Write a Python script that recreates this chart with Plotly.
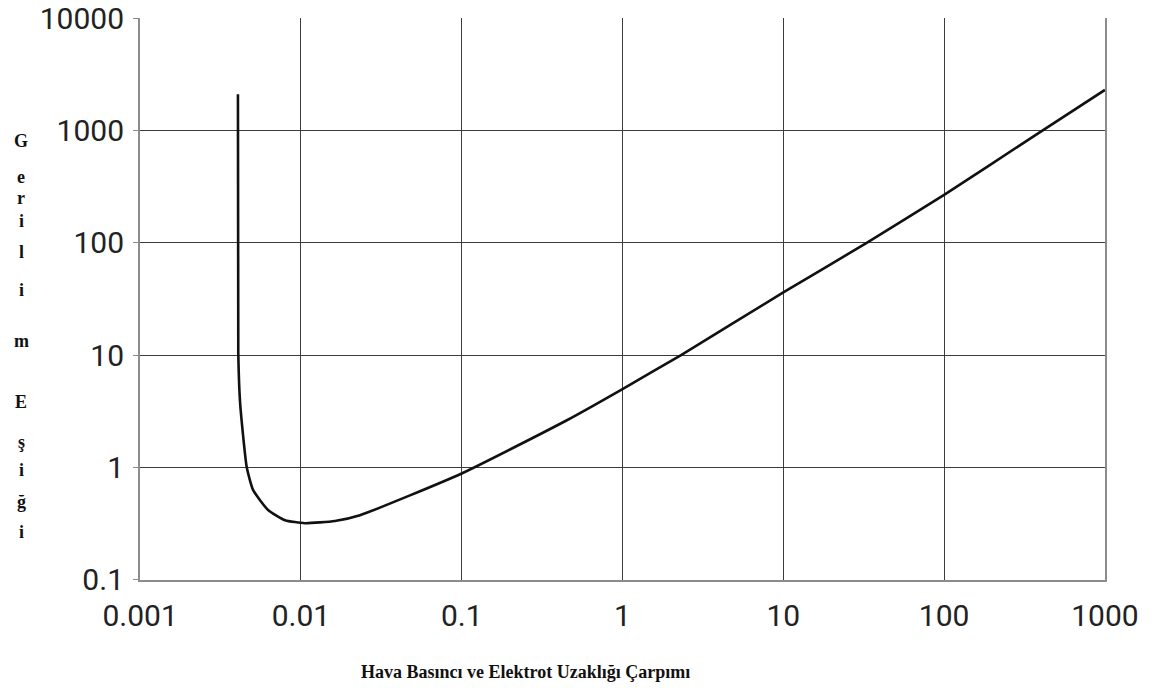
import plotly.graph_objects as go

# Breakdown threshold curve (Paschen-type): product on x, voltage on y
pd_product = [0.00406, 0.00408, 0.00419, 0.00461, 0.00505, 0.00625, 0.00798,
              0.0106, 0.0163, 0.0233, 0.1, 0.451, 1.0, 2.3, 10.0, 33.0,
              100.0, 350.0, 1000.0]
threshold = [2100, 10.4, 3.73, 1.0, 0.63, 0.42, 0.34,
             0.32, 0.335, 0.377, 0.887, 2.64, 5.0, 10.0, 36.3, 100.0,
             268.0, 865.0, 2300.0]

x_ticks = [0.001, 0.01, 0.1, 1, 10, 100, 1000]
x_tick_text = ["0.001", "0.01", "0.1", "1", "10", "100", "1000"]
y_ticks = [0.1, 1, 10, 100, 1000, 10000]
y_tick_text = ["0.1", "1", "10", "100", "1000", "10000"]

x_title = "Hava Basıncı ve Elektrot Uzaklığı Çarpımı"
y_title_letters = ["G", "e", "r", "i", "l", "i", "m", "E", "ş", "i", "ğ", "i"]
y_title_rows = [141, 177, 198, 221, 252, 290, 341, 402, 442, 470, 502, 532]

W, H = 1162, 688
L, R, T, B = 140, 57, 18, 108
plot_h = H - T - B
plot_w = W - L - R

fig = go.Figure()
fig.add_trace(go.Scatter(
    x=pd_product, y=threshold, mode="lines",
    line=dict(color="#111111", width=2.6, shape="spline", smoothing=0.5),
    hoverinfo="skip", showlegend=False,
))

tick_font = dict(family="Roboto, Open Sans, sans-serif", size=30, color="#222222")

fig.update_xaxes(
    type="log", range=[-3.0005, 3.0005], tickvals=x_ticks, ticktext=x_tick_text,
    showgrid=True, gridcolor="#3c3c3c", gridwidth=1,
    showline=True, linecolor="#8c8c8c", linewidth=2,
    ticks="", tickfont=tick_font, zeroline=False, ticklabelstandoff=8,
    ticklabeloverflow="allow", automargin=False,
)
fig.update_yaxes(
    type="log", range=[-1.0005, 4.002], tickvals=y_ticks, ticktext=y_tick_text,
    showgrid=True, gridcolor="#3c3c3c", gridwidth=1,
    showline=True, linecolor="#8c8c8c", linewidth=2, mirror=True,
    ticks="outside", ticklen=5, tickcolor="#8c8c8c", tickwidth=1,
    tickfont=tick_font, zeroline=False, ticklabeloverflow="allow",
    ticklabelstandoff=3, automargin=False,
)

annotations = [dict(
    text="<b>%s</b>" % x_title, xref="paper", yref="paper",
    x=(525 - L) / plot_w, y=-(672 - (H - B)) / plot_h,
    xanchor="center", yanchor="middle", showarrow=False,
    font=dict(family="Liberation Serif, serif", size=18, color="#111111"),
)]
for letter, row in zip(y_title_letters, y_title_rows):
    annotations.append(dict(
        text="<b>%s</b>" % letter, xref="paper", yref="paper",
        x=(21 - L) / plot_w, y=((H - B) - row) / plot_h,
        xanchor="center", yanchor="middle", showarrow=False,
        font=dict(family="Liberation Serif, serif", size=18, color="#111111"),
    ))

fig.update_layout(
    width=W, height=H,
    margin=dict(l=L, r=R, t=T, b=B, autoexpand=False),
    paper_bgcolor="white", plot_bgcolor="white",
    annotations=annotations,
)

fig.write_html("out.html")
